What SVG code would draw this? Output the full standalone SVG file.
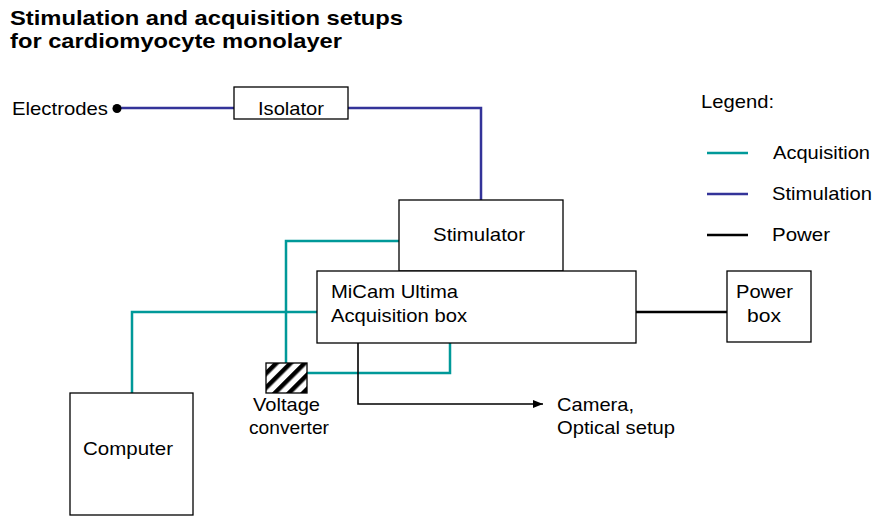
<svg xmlns="http://www.w3.org/2000/svg" width="875" height="516" viewBox="0 0 875 516">
  <style>
    text { font-family: "Liberation Sans", Arial, sans-serif; font-size: 19px; fill: #000; }
    .title { font-weight: bold; font-size: 20.5px; }
    .box { fill: #fff; stroke: #000; stroke-width: 1.3; }
    .acq { fill: none; stroke: #009999; stroke-width: 2.5; }
    .stim { fill: none; stroke: #333399; stroke-width: 2.5; }
    .pwr { fill: none; stroke: #000; stroke-width: 2.5; }
    .sig { fill: none; stroke: #000; stroke-width: 1.6; }
  </style>
  <defs>
    <pattern id="hatch" patternUnits="userSpaceOnUse" width="10" height="10" patternTransform="rotate(45)">
      <rect width="10" height="10" fill="#fff"/>
      <rect width="4.5" height="10" fill="#000"/>
    </pattern>
    <marker id="arrow" viewBox="0 0 10 8" refX="10" refY="4" markerWidth="6.5" markerHeight="5.2" markerUnits="strokeWidth" orient="auto">
      <path d="M0,0 L10,4 L0,8 z" fill="#000"/>
    </marker>
  </defs>

  <rect width="875" height="516" fill="#fff"/>

  <g id="title">
    <text class="title" x="10" y="25" textLength="393" lengthAdjust="spacingAndGlyphs">Stimulation and acquisition setups</text>
    <text class="title" x="10" y="48" textLength="332" lengthAdjust="spacingAndGlyphs">for cardiomyocyte monolayer</text>
  </g>

  <g id="connectors">
    <!-- stimulation path -->
    <path class="stim" d="M117,108 H234"/>
    <path class="stim" d="M348,108 H481 V200"/>
    <!-- acquisition paths -->
    <path class="acq" d="M399,241 H286 V363"/>
    <path class="acq" d="M317,312 H132 V393"/>
    <path class="acq" d="M307,373 H450 V343"/>
    <!-- power -->
    <path class="pwr" d="M636,312 H727"/>
    <!-- to camera -->
    <path class="sig" d="M358,343 V404 H543" marker-end="url(#arrow)"/>
  </g>

  <g id="electrodes">
    <circle cx="117" cy="108.5" r="4.5" fill="#000"/>
    <text x="12" y="115" textLength="96" lengthAdjust="spacingAndGlyphs">Electrodes</text>
  </g>

  <g id="isolator">
    <rect class="box" x="234" y="87" width="114" height="32"/>
    <text x="258" y="115" textLength="66" lengthAdjust="spacingAndGlyphs">Isolator</text>
  </g>

  <g id="stimulator">
    <rect class="box" x="399" y="200" width="164" height="71"/>
    <text x="433" y="241" textLength="92" lengthAdjust="spacingAndGlyphs">Stimulator</text>
  </g>

  <g id="micam">
    <rect class="box" x="317" y="271" width="319" height="72"/>
    <text x="331" y="298" textLength="127" lengthAdjust="spacingAndGlyphs">MiCam Ultima</text>
    <text x="331" y="322" textLength="136" lengthAdjust="spacingAndGlyphs">Acquisition box</text>
  </g>

  <g id="power-box">
    <rect class="box" x="727" y="271" width="84" height="71"/>
    <text x="736" y="298" textLength="57" lengthAdjust="spacingAndGlyphs">Power</text>
    <text x="747" y="322" textLength="34" lengthAdjust="spacingAndGlyphs">box</text>
  </g>

  <g id="voltage-converter">
    <rect x="266" y="363" width="41" height="30" fill="url(#hatch)" stroke="#000" stroke-width="1.3"/>
    <text x="253" y="411" textLength="67" lengthAdjust="spacingAndGlyphs">Voltage</text>
    <text x="249" y="434" textLength="80" lengthAdjust="spacingAndGlyphs">converter</text>
  </g>

  <g id="computer">
    <rect class="box" x="70" y="393" width="123" height="122"/>
    <text x="83" y="455" textLength="90" lengthAdjust="spacingAndGlyphs">Computer</text>
  </g>

  <g id="camera">
    <text x="557" y="411" textLength="77" lengthAdjust="spacingAndGlyphs">Camera,</text>
    <text x="557" y="434" textLength="118" lengthAdjust="spacingAndGlyphs">Optical setup</text>
  </g>

  <g id="legend">
    <text x="701" y="108" textLength="73" lengthAdjust="spacingAndGlyphs">Legend:</text>
    <line class="acq" x1="707" y1="153" x2="748" y2="153"/>
    <text x="773" y="159" textLength="97" lengthAdjust="spacingAndGlyphs">Acquisition</text>
    <line class="stim" x1="707" y1="194" x2="748" y2="194"/>
    <text x="772" y="200" textLength="100" lengthAdjust="spacingAndGlyphs">Stimulation</text>
    <line class="pwr" x1="707" y1="235" x2="748" y2="235"/>
    <text x="772" y="241" textLength="58" lengthAdjust="spacingAndGlyphs">Power</text>
  </g>
</svg>
